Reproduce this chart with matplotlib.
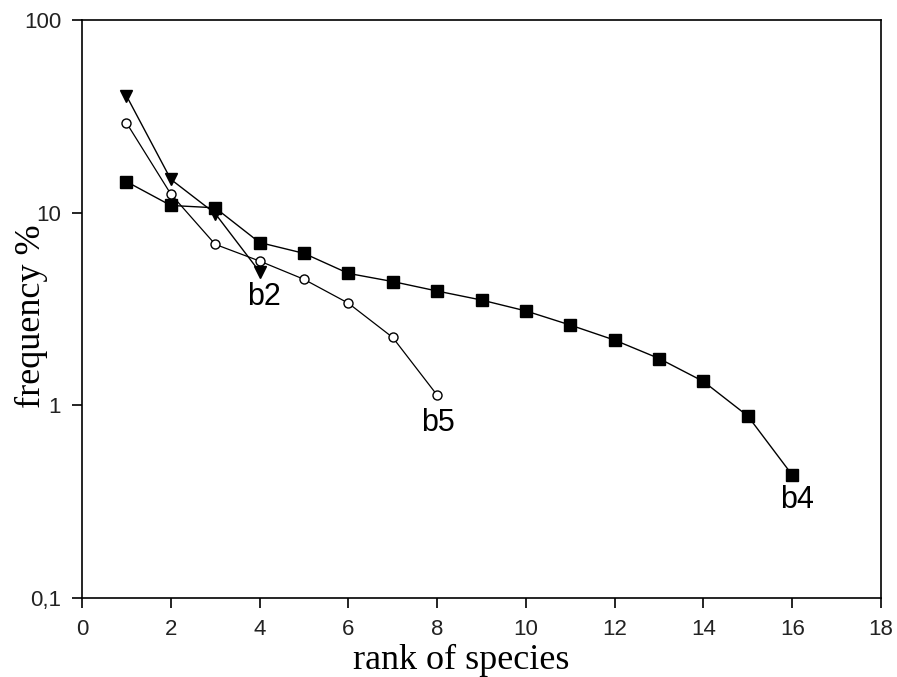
import matplotlib.pyplot as plt
import matplotlib.transforms as mtransforms
from matplotlib.ticker import FixedLocator, NullLocator

# data
rank_b4 = list(range(1, 17))
freq_b4 = [14.5, 10.9, 10.6, 7.0, 6.15, 4.84, 4.39, 3.92, 3.52, 3.09,
           2.61, 2.18, 1.75, 1.33, 0.88, 0.435]
rank_b5 = list(range(1, 9))
freq_b5 = [29.3, 12.5, 6.85, 5.61, 4.51, 3.39, 2.25, 1.13]
rank_b2 = [1, 2, 3, 4]
freq_b2 = [40.5, 14.9, 9.9, 4.94]

yticks = [0.1, 1, 10, 100]
ytick_labels = ['0,1', '1', '10', '100']
xticks = list(range(0, 19, 2))

fig = plt.figure(figsize=(8.97, 6.77), dpi=100)
ax = fig.add_axes([82/897, 1 - 598/677, (881 - 82)/897, (598 - 20)/677])

ax.plot(rank_b4, freq_b4, color='black', lw=1.0, marker='s', ms=8.5,
        mfc='black', mec='black')
ax.plot(rank_b5, freq_b5, color='black', lw=0.9, marker='o', ms=6.5,
        mfc='white', mec='black', mew=1.0)
ax.plot(rank_b2, freq_b2, color='black', lw=1.0, marker='v', ms=8,
        mfc='black', mec='black')

ax.set_yscale('log')
ax.set_xlim(0, 18)
ax.set_ylim(0.1, 100)
ax.yaxis.set_major_locator(FixedLocator(yticks))
ax.yaxis.set_minor_locator(NullLocator())
ax.set_yticklabels(ytick_labels)
ax.set_xticks(xticks)

tickfont = ['Liberation Sans Narrow', 'Liberation Sans', 'DejaVu Sans']
for lab in ax.get_xticklabels() + ax.get_yticklabels():
    lab.set_family(tickfont)
    lab.set_fontsize(16)
    lab.set_color('#222222')
ax.tick_params(direction='out', length=7, width=1.2, pad=8)
for sp in ax.spines.values():
    sp.set_linewidth(1.2)

ax.set_xlabel('rank of species', family='Liberation Serif', fontsize=26)
ax.set_ylabel('frequency %', family='Liberation Serif', fontsize=26)
ax.xaxis.set_label_coords(0.474, -0.08)
ax.yaxis.set_label_coords(-0.042, 0.487)

lab_font = dict(family=['Liberation Sans', 'DejaVu Sans'], fontsize=22,
                ha='center', va='center')
names = ['b2', 'b5', 'b4']
anchors = [(rank_b2[-1], freq_b2[-1]), (rank_b5[-1], freq_b5[-1]),
           (rank_b4[-1], freq_b4[-1])]
shifts = [(0.1, -18), (0.02, -20), (0.1, -18)]
for name, (x, y), (dx, dy) in zip(names, anchors, shifts):
    off = mtransforms.ScaledTranslation(0, dy / 72, fig.dpi_scale_trans)
    ax.text(x + dx, y, name, transform=ax.transData + off, **lab_font)

fig.savefig('out.png', dpi=100)
